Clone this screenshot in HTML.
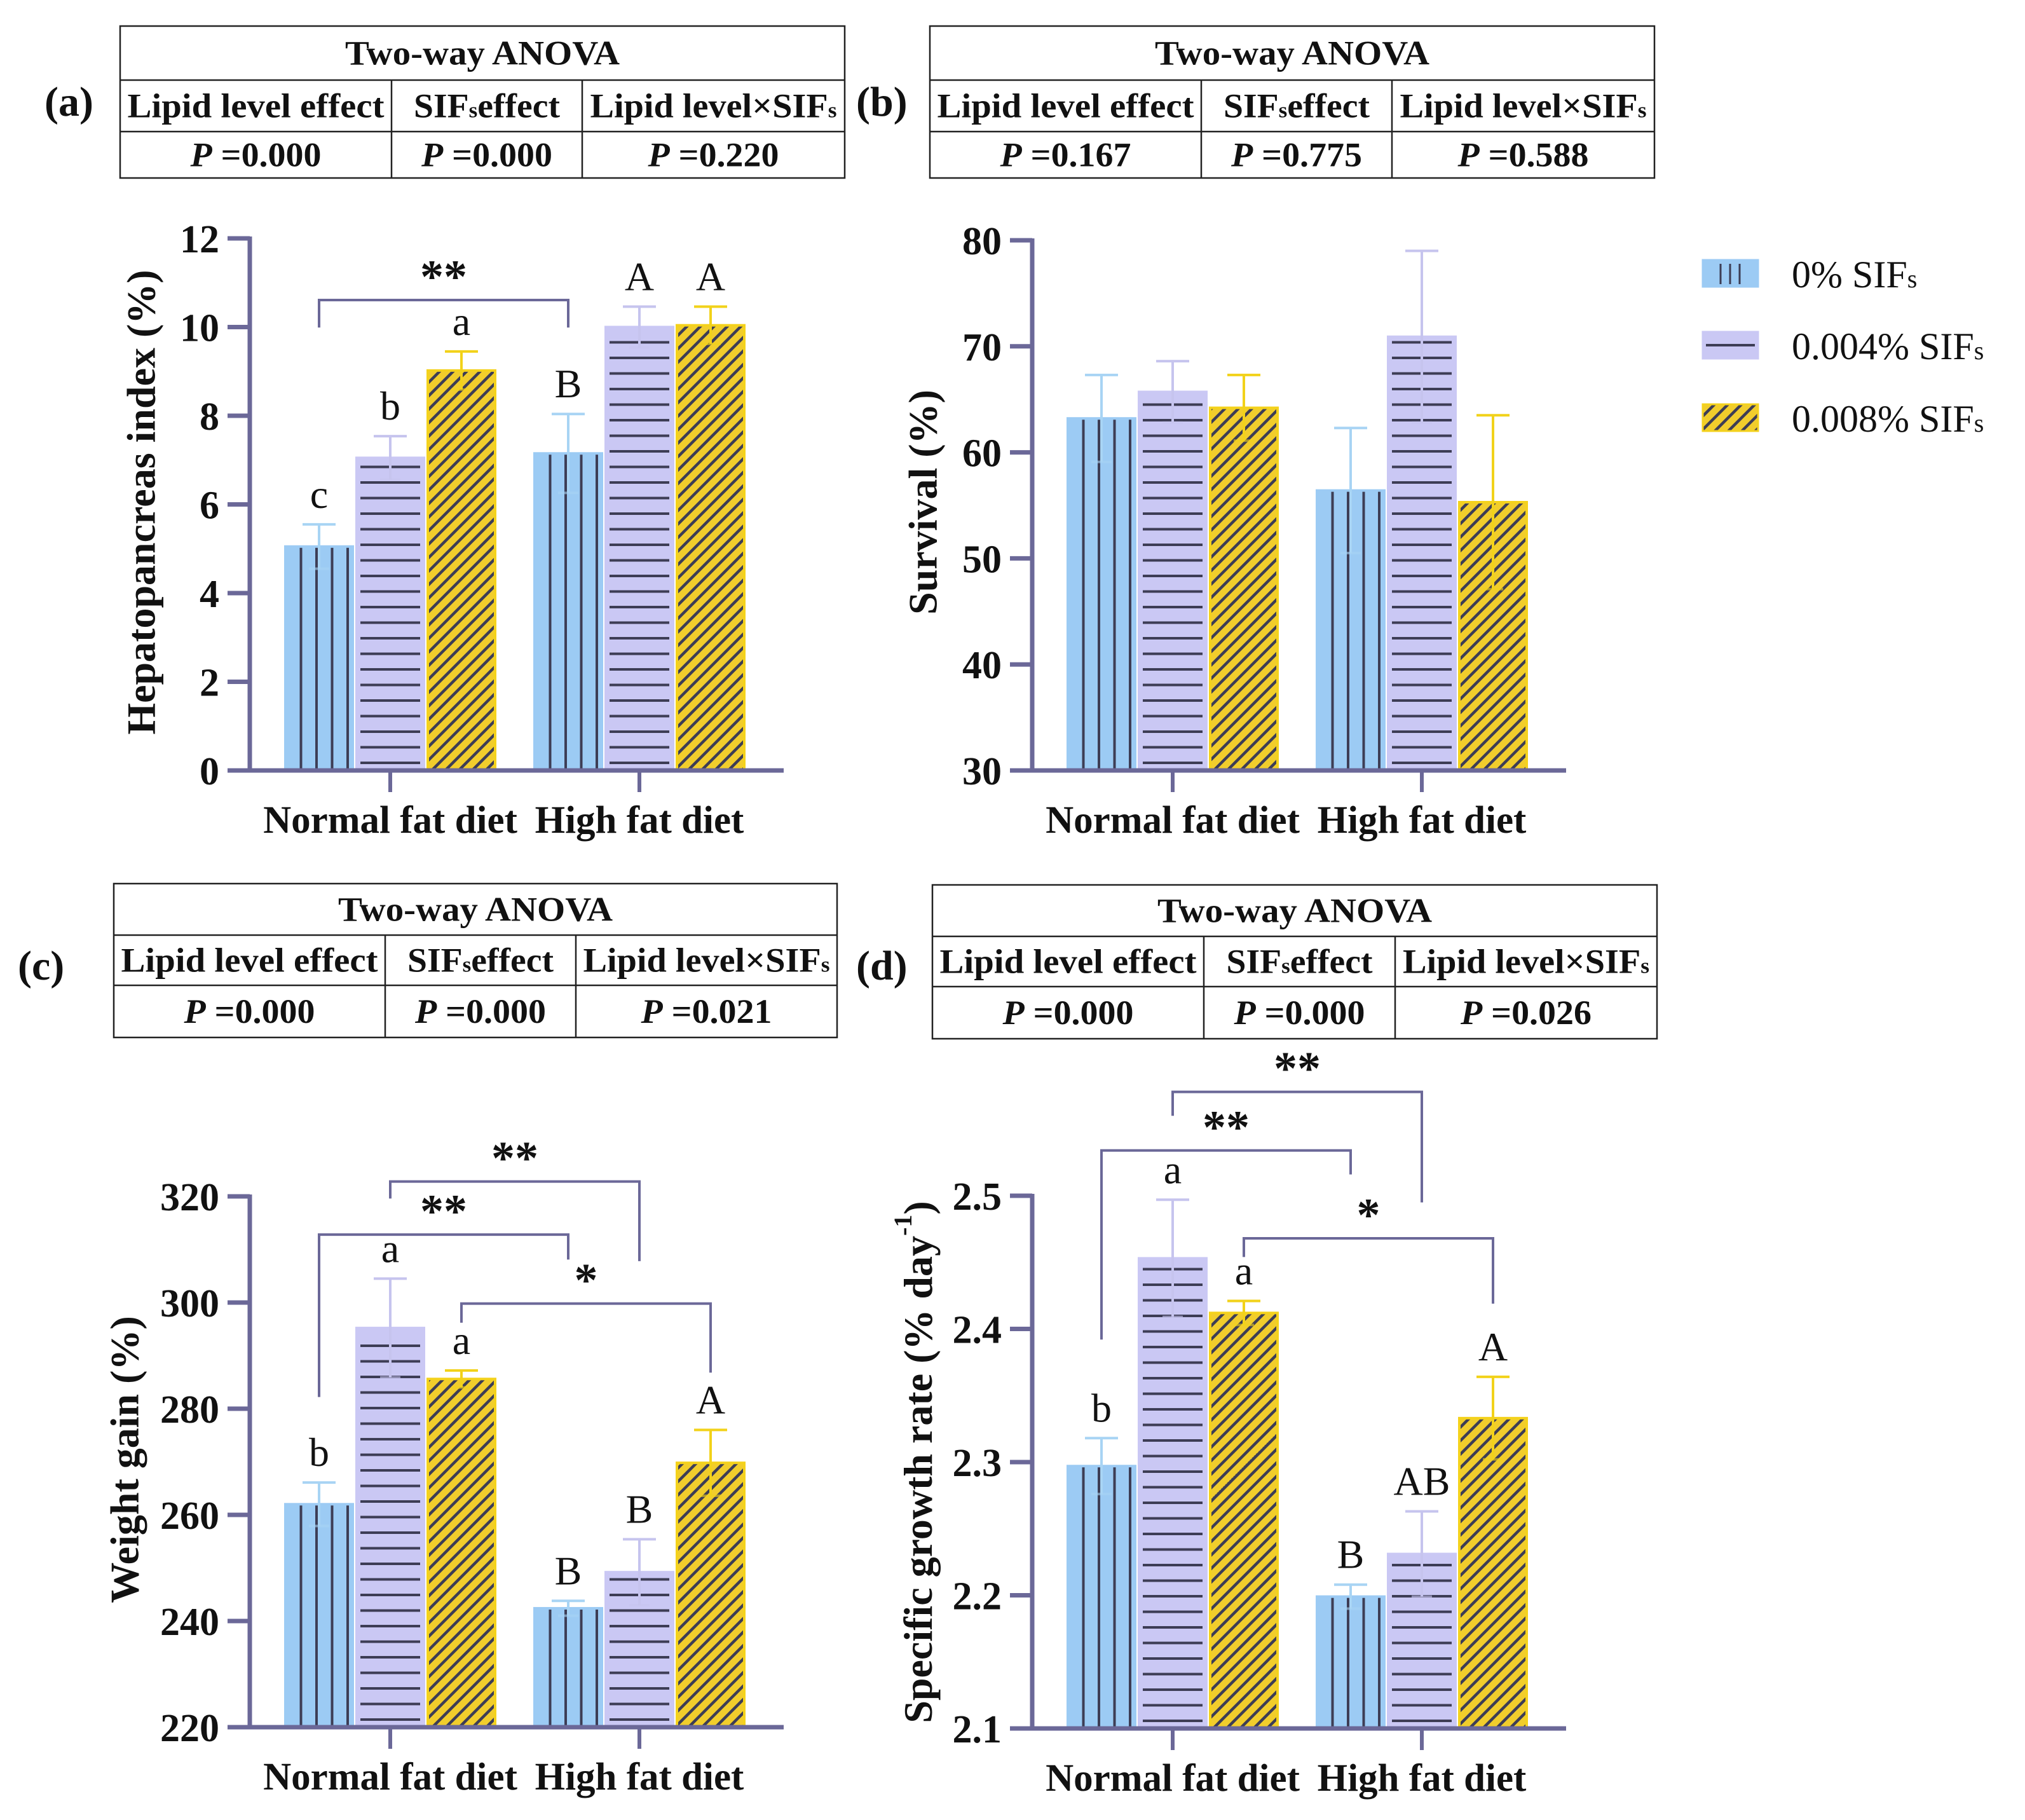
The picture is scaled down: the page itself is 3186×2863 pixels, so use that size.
<!DOCTYPE html>
<html>
<head>
<meta charset="utf-8">
<style>
html,body{margin:0;padding:0;background:#fff;}
svg{display:block;font-family:"Liberation Serif","Times New Roman",serif;}
svg text{font-family:"Liberation Serif","Times New Roman",serif;}
</style>
</head>
<body>
<svg id="chart" width="3186" height="2863" viewBox="0 0 3186 2863" xmlns="http://www.w3.org/2000/svg" font-family="Liberation Serif, serif">
<defs>
<pattern id="diag" patternUnits="userSpaceOnUse" width="15" height="15" patternTransform="rotate(45)">
<rect x="0" y="0" width="15" height="15" fill="#f1cd2c"/>
<rect x="0" y="0" width="4.5" height="15" fill="#3d3d55"/>
</pattern>
</defs>
</svg>
<script>
const categories = ["Normal fat diet", "High fat diet"];
const seriesLabels = ["0% SIF", "0.004% SIF", "0.008% SIF"];

const hpiMean = [5.05, 7.05, 9.02, 7.15, 10.0, 10.04];
const hpiSd = [0.50, 0.49, 0.43, 0.89, 0.46, 0.42];
const hpiLetters = ["c", "b", "a", "B", "A", "A"];
const hpiTicks = [0, 2, 4, 6, 8, 10, 12];
const hpiBrackets = [{a: 0, b: 3, top: 10.61, l: 9.99, r: 9.99, label: "**"}];
const hpiP = ["0.000", "0.000", "0.220"];

const survMean = [63.2, 65.7, 64.2, 56.4, 70.9, 55.3];
const survSd = [4.1, 2.9, 3.1, 5.9, 8.1, 8.2];
const survLetters = ["", "", "", "", "", ""];
const survTicks = [30, 40, 50, 60, 70, 80];
const survBrackets = [];
const survP = ["0.167", "0.775", "0.588"];

const wgMean = [262.0, 295.2, 285.6, 242.4, 249.2, 269.8];
const wgSd = [4.1, 9.3, 1.6, 1.4, 6.2, 6.2];
const wgLetters = ["b", "a", "a", "B", "B", "A"];
const wgTicks = [220, 240, 260, 280, 300, 320];
const wgBrackets = [
  {a: 1, b: 4, top: 322.8, l: 319.6, r: 307.8, label: "**"},
  {a: 0, b: 3, top: 312.8, l: 282.2, r: 308.1, label: "**"},
  {a: 2, b: 5, top: 299.8, l: 296.2, r: 286.8, label: "*"}
];
const wgP = ["0.000", "0.000", "0.021"];

const sgrMean = [2.297, 2.453, 2.412, 2.199, 2.231, 2.333];
const sgrSd = [0.021, 0.044, 0.009, 0.009, 0.032, 0.031];
const sgrLetters = ["b", "a", "a", "B", "AB", "A"];
const sgrTicks = [2.1, 2.2, 2.3, 2.4, 2.5];
const sgrBrackets = [
  {a: 1, b: 4, top: 2.578, l: 2.560, r: 2.495, label: "**"},
  {a: 0, b: 3, top: 2.534, l: 2.392, r: 2.516, label: "**"},
  {a: 2, b: 5, top: 2.468, l: 2.454, r: 2.419, label: "*"}
];
const sgrP = ["0.000", "0.000", "0.026"];

const NS = "http://www.w3.org/2000/svg";
const svg = document.getElementById("chart");
const SERIF = "Liberation Serif, serif";
function el(tag, attrs, parent) {
  const e = document.createElementNS(NS, tag);
  if (tag === "text" && !("font-family" in attrs)) e.setAttribute("font-family", SERIF);
  for (const k in attrs) e.setAttribute(k, attrs[k]);
  (parent || svg).appendChild(e);
  return e;
}
const AXIS = "#6b6898";
const FILL = ["#9ccbf4", "#cac8f4", "url(#diag)"];
const EDGE = ["#9ccbf4", "#cac8f4", "#f4d21c"];
const ERR = ["#a8d4f4", "#c6c4ee", "#f2d21a"];
const DARK = "#3d3d55";
const OFFS = [-112, 0, 112];
const BW = 106;

function drawPanel(p) {
  const g = el("g", {});
  
  
  const ys = v => p.bottom - (v - p.min) / (p.max - p.min) * (p.bottom - p.top);
  const barX = i => p.cx[Math.floor(i / 3)] + OFFS[i % 3];

  for (let i = 0; i < p.mean.length; i++) {
    const s = i % 3;
    const cx = barX(i);
    const x0 = cx - BW / 2;
    const yt = ys(p.mean[i]);
    const bar = el("rect", {x: x0, y: yt, width: BW, height: p.bottom - yt, fill: FILL[s], stroke: EDGE[s], "stroke-width": 4}, g);
    
    
    if (s === 0) {
      for (let k = 1; k <= 4; k++) {
        const lx = x0 + k * 24.5;
        const ln = el("line", {x1: lx, y1: yt + 2, x2: lx, y2: p.bottom, stroke: DARK, "stroke-width": 4}, g);
        
        
      }
    } else if (s === 1) {
      for (let ly = p.bottom - 12; ly > yt + 8; ly -= 24.5) {
        const ln = el("line", {x1: x0 + 6, y1: ly, x2: x0 + BW - 6, y2: ly, stroke: DARK, "stroke-width": 4}, g);
        
        
      }
    }
    const eTop = ys(p.mean[i] + p.sd[i]);
    const eBot = ys(p.mean[i] - p.sd[i]);
    const eb = el("g", {stroke: ERR[s], "stroke-width": 4}, g);
    
    
    el("line", {x1: cx, y1: eTop, x2: cx, y2: eBot}, eb);
    el("line", {x1: cx - 26, y1: eTop, x2: cx + 26, y2: eTop}, eb);
    el("line", {x1: cx - 16, y1: eBot, x2: cx + 16, y2: eBot, "stroke-opacity": 0.6}, eb);
    if (p.letters[i]) {
      const t = el("text", {x: cx, y: eTop - 48 + 22, "text-anchor": "middle", "font-size": 64, fill: "#111"}, g);
      t.textContent = p.letters[i];
      
      
    }
  }

  p.brackets.forEach(b => {
    const xa = barX(b.a), xb = barX(b.b), yt = ys(b.top);
    const pl = el("polyline", {points: `${xa},${ys(b.l)} ${xa},${yt} ${xb},${yt} ${xb},${ys(b.r)}`, fill: "none", stroke: AXIS, "stroke-width": 4}, g);
    
    
    const st = el("text", {x: (xa + xb) / 2, y: yt - 54 + 42, "text-anchor": "middle", "font-size": 74, "font-weight": "bold", "font-family": "Liberation Sans, sans-serif", fill: "#111"}, g);
    st.textContent = b.label;
    
    
  });

  const ya = el("line", {x1: p.ax, y1: p.top - 3, x2: p.ax, y2: p.bottom + 3, stroke: AXIS, "stroke-width": 7}, g);
  
  
  const xa = el("line", {x1: p.ax - 35, y1: p.bottom, x2: p.xEnd, y2: p.bottom, stroke: AXIS, "stroke-width": 7}, g);
  
  
  p.ticks.forEach(t => {
    const y = ys(t);
    const tk = el("line", {x1: p.ax - 35, y1: y, x2: p.ax, y2: y, stroke: AXIS, "stroke-width": 7}, g);
    
    
    const tl = el("text", {x: p.ax - 48, y: y + 22, "text-anchor": "end", "font-size": 62, "font-weight": "bold", fill: "#111"}, g);
    tl.textContent = p.dec ? t.toFixed(p.dec) : String(t);
    
    
  });
  categories.forEach((c, k) => {
    const tk = el("line", {x1: p.cx[k], y1: p.bottom, x2: p.cx[k], y2: p.bottom + 34, stroke: AXIS, "stroke-width": 6}, g);
    
    
    const tl = el("text", {x: p.cx[k], y: p.bottom + 98, "text-anchor": "middle", "font-size": 61, "font-weight": "bold", fill: "#111"}, g);
    tl.textContent = c;
    
    
  });
  const tt = el("text", {x: 0, y: 0, transform: `translate(${p.titleX},${p.titleY}) rotate(-90)`, "text-anchor": "middle", "dominant-baseline": "central", "font-size": 64, "font-weight": "bold", fill: "#111"}, g);
  
  
  if (p.sup) {
    const a = el("tspan", {}, tt); a.textContent = p.title;
    const b = el("tspan", {"font-size": 40, dy: -24}, tt); b.textContent = p.sup;
    const c = el("tspan", {dy: 24}, tt); c.textContent = ")";
  } else {
    tt.textContent = p.title;
  }
}

function drawTable(t) {
  const g = el("g", {});
  
  
  const [y0, y1, y2, y3] = t.ys;
  const r = el("rect", {x: t.x0, y: y0, width: t.x1 - t.x0, height: y3 - y0, fill: "none", stroke: "#222", "stroke-width": 2.5}, g);
  
  
  [y1, y2].forEach(y => {
    const l = el("line", {x1: t.x0, y1: y, x2: t.x1, y2: y, stroke: "#222", "stroke-width": 2.5}, g);
    
    
  });
  [t.c1, t.c2].forEach(x => {
    const l = el("line", {x1: x, y1: y1, x2: x, y2: y3, stroke: "#222", "stroke-width": 2.5}, g);
    
    
  });
  const fs = 54;
  const h = el("text", {x: (t.x0 + t.x1) / 2, y: (y0 + y1) / 2 + 18, "text-anchor": "middle", "font-size": fs, "font-weight": "bold", textLength: 432, lengthAdjust: "spacingAndGlyphs", fill: "#111"}, g);
  h.textContent = "Two-way ANOVA";
  
  
  const cols = [[t.x0, t.c1], [t.c1, t.c2], [t.c2, t.x1]];
  const hy = (y1 + y2) / 2 + 18;
  const h1 = el("text", {x: (cols[0][0] + cols[0][1]) / 2, y: hy, "text-anchor": "middle", "font-size": fs, "font-weight": "bold", textLength: 404, lengthAdjust: "spacingAndGlyphs", fill: "#111"}, g);
  h1.textContent = "Lipid level effect";
  
  
  const h2 = el("text", {x: (cols[1][0] + cols[1][1]) / 2, y: hy, "text-anchor": "middle", "font-size": fs, "font-weight": "bold", textLength: 230, lengthAdjust: "spacingAndGlyphs", fill: "#111"}, g);
  
  
  let a = el("tspan", {}, h2); a.textContent = "SIF";
  a = el("tspan", {"font-size": 34}, h2); a.textContent = "s";
  a = el("tspan", {}, h2); a.textContent = "effect";
  const h3 = el("text", {x: (cols[2][0] + cols[2][1]) / 2, y: hy, "text-anchor": "middle", "font-size": fs, "font-weight": "bold", textLength: 388, lengthAdjust: "spacingAndGlyphs", fill: "#111"}, g);
  
  
  a = el("tspan", {}, h3); a.textContent = "Lipid level×SIF";
  a = el("tspan", {"font-size": 34}, h3); a.textContent = "s";
  const py = (y2 + y3) / 2 + 18;
  cols.forEach((c, k) => {
    const tx = el("text", {x: (c[0] + c[1]) / 2, y: py, "text-anchor": "middle", "font-size": fs, "font-weight": "bold", textLength: 206, lengthAdjust: "spacingAndGlyphs", fill: "#111"}, g);
    
    
    let s = el("tspan", {"font-style": "italic"}, tx); s.textContent = "P";
    s = el("tspan", {}, tx); s.textContent = " =" + t.p[k];
  });
  const lb = el("text", {x: t.lx, y: t.ly, "font-size": 66, "font-weight": "bold", fill: "#111"}, g);
  lb.textContent = t.label;
  
  
}

drawTable({name: "anova-table-a", x0: 189, x1: 1329, c1: 616, c2: 916, ys: [41, 126, 207, 280], p: hpiP, label: "(a)", lx: 70, ly: 182});
drawTable({name: "anova-table-b", x0: 1463, x1: 2603, c1: 1890, c2: 2190, ys: [41, 126, 207, 280], p: survP, label: "(b)", lx: 1347, ly: 182});
drawTable({name: "anova-table-c", x0: 179, x1: 1317, c1: 606, c2: 906, ys: [1390, 1471, 1550, 1632], p: wgP, label: "(c)", lx: 28, ly: 1541});
drawTable({name: "anova-table-d", x0: 1467, x1: 2607, c1: 1894, c2: 2195, ys: [1392, 1473, 1552, 1634], p: sgrP, label: "(d)", lx: 1347, ly: 1541});

drawPanel({name: "panel-a-hepatopancreas", ax: 393, top: 375, bottom: 1212, xEnd: 1233, cx: [614, 1006], min: 0, max: 12,
  mean: hpiMean, sd: hpiSd, letters: hpiLetters, ticks: hpiTicks, brackets: hpiBrackets, dec: 0,
  title: "Hepatopancreas index (%)", titleX: 222, titleY: 790});
drawPanel({name: "panel-b-survival", ax: 1624, top: 378, bottom: 1212, xEnd: 2464, cx: [1845, 2237], min: 30, max: 80,
  mean: survMean, sd: survSd, letters: survLetters, ticks: survTicks, brackets: survBrackets, dec: 0,
  title: "Survival (%)", titleX: 1452, titleY: 790});
drawPanel({name: "panel-c-weight-gain", ax: 393, top: 1882, bottom: 2717, xEnd: 1233, cx: [614, 1006], min: 220, max: 320,
  mean: wgMean, sd: wgSd, letters: wgLetters, ticks: wgTicks, brackets: wgBrackets, dec: 0,
  title: "Weight gain (%)", titleX: 196, titleY: 2296});
drawPanel({name: "panel-d-sgr", ax: 1624, top: 1881, bottom: 2719, xEnd: 2464, cx: [1845, 2237], min: 2.1, max: 2.5,
  mean: sgrMean, sd: sgrSd, letters: sgrLetters, ticks: sgrTicks, brackets: sgrBrackets, dec: 1,
  title: "Specific growth rate (% day", sup: "-1", titleX: 1444, titleY: 2300});

const leg = el("g", {});


const legY = [409, 522, 636];
seriesLabels.forEach((s, k) => {
  const eg = el("g", {}, leg);
  
  
  const y = legY[k];
  const sw = el("rect", {x: 2679, y: y, width: 87, height: 42, fill: FILL[k], stroke: EDGE[k], "stroke-width": 3}, eg);
  
  
  if (k === 0) {
    [2707, 2722, 2737].forEach(x => {
      const l = el("line", {x1: x, y1: y + 6, x2: x, y2: y + 38, stroke: DARK, "stroke-width": 3}, eg);
      
      
    });
  } else if (k === 1) {
    const l = el("line", {x1: 2684, y1: y + 21, x2: 2761, y2: y + 21, stroke: DARK, "stroke-width": 4}, eg);
    
    
  }
  const tx = el("text", {x: 2819, y: y + 43, "font-size": 60, fill: "#111"}, eg);
  
  
  let a = el("tspan", {}, tx); a.textContent = s;
  a = el("tspan", {"font-size": 40}, tx); a.textContent = "s";
});
</script>
</body>
</html>
